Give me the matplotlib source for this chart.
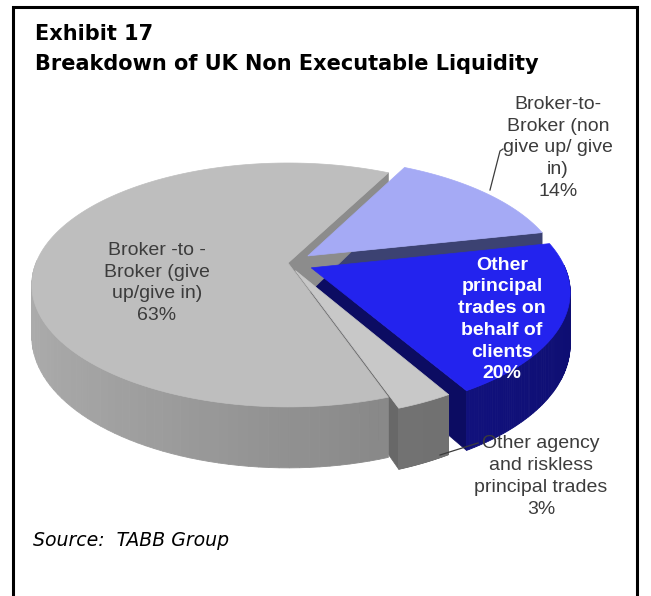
import numpy as np
import matplotlib
matplotlib.use("Agg")
import matplotlib.pyplot as plt
from matplotlib.patches import Polygon
from matplotlib.colors import to_rgb

# ---- data -------------------------------------------------------------
categories = [
    "Broker -to -\nBroker (give\nup/give in)",
    "Other agency\nand riskless\nprincipal trades",
    "Other\nprincipal\ntrades on\nbehalf of\nclients",
    "Broker-to-\nBroker (non\ngive up/ give\nin)",
]
shares = [63, 3, 20, 14]          # percent, counter-clockwise order
explode = [0.0, 0.07, 0.10, 0.10]
top_colors = ["#bebebe", "#c8c8c8", "#2323ee", "#a5aaf5"]
side_colors = [("#acacac", "#767676"), ("#7a7a7a", "#6e6e6e"),
               ("#1a1a9c", "#0e0e72"), ("#3c4272", "#3c4272")]
radial_colors = ["#8c8c8c", "#686868", "#0c0c62", "#3c4272"]
title_lines = ["Exhibit 17", "Breakdown of UK Non Executable Liquidity"]
source_text = "Source:  TABB Group"

# ---- projection of the 3-D pie ----------------------------------------
W, H_FIG = 651, 596
CX, CY = 288.0, 263.0     # pixel position of pie centre
A, B = 252.0, 118.0       # horizontal / vertical radius
K = 0.18                  # perspective strength
DEPTH = 50.0              # thickness of the pie
START = 62.5              # angle (deg) where the first slice begins


def proj(X, Z, down):
    f = 1.0 / (1.0 + K * Z)
    return CX + A * X * f, CY + (-B * Z + DEPTH * down) * f


fig = plt.figure(figsize=(W / 100, H_FIG / 100), dpi=100)
ax = fig.add_axes([0, 0, 1, 1])
ax.set_xlim(0, W)
ax.set_ylim(H_FIG, 0)
ax.axis("off")

fracs = np.array(shares, dtype=float) / sum(shares)
bounds = START + 360.0 * np.concatenate([[0], np.cumsum(fracs)])


def geometry(i):
    t0, t1 = bounds[i], bounds[i + 1]
    mid = np.radians((t0 + t1) / 2)
    return t0, t1, explode[i] * np.cos(mid), explode[i] * np.sin(mid)


def radial_walls(i, z):
    t0, t1, ox, oz = geometry(i)
    for t, visible in ((t0, np.cos(np.radians(t0)) > 0),
                       (t1, np.cos(np.radians(t1)) < 0)):
        if not visible:
            continue
        r = np.radians(t)
        ex, ez = ox + np.cos(r), oz + np.sin(r)
        pts = [proj(ox, oz, 0), proj(ex, ez, 0), proj(ex, ez, 1), proj(ox, oz, 1)]
        ax.add_patch(Polygon(pts, closed=True, facecolor=radial_colors[i],
                             edgecolor=radial_colors[i], lw=0.5, zorder=z))


def outer_wall(i, z):
    t0, t1, ox, oz = geometry(i)
    c_lo = np.array(to_rgb(side_colors[i][0]))
    c_hi = np.array(to_rgb(side_colors[i][1]))
    seg = np.radians(np.linspace(t0, t1, 120))
    for a0, a1 in zip(seg[:-1], seg[1:]):
        am = (a0 + a1) / 2
        if np.sin(am) > 0.02:
            continue
        s = 0.5 * (1 - np.cos(am - np.pi))
        col = c_lo + (c_hi - c_lo) * s
        pts = [proj(ox + np.cos(a0), oz + np.sin(a0), 0),
               proj(ox + np.cos(a1), oz + np.sin(a1), 0),
               proj(ox + np.cos(a1), oz + np.sin(a1), 1),
               proj(ox + np.cos(a0), oz + np.sin(a0), 1)]
        ax.add_patch(Polygon(pts, closed=True, facecolor=col, edgecolor=col,
                             lw=0.6, zorder=z))


def top_face(i, z):
    t0, t1, ox, oz = geometry(i)
    th = np.radians(np.linspace(t0, t1, 200))
    top = [proj(ox, oz, 0)] + [proj(ox + np.cos(t), oz + np.sin(t), 0) for t in th]
    ax.add_patch(Polygon(top, closed=True, facecolor=top_colors[i],
                         edgecolor=top_colors[i], lw=0.5, zorder=z))


# back-to-front painting: the inner walls of the exploded slices sit
# behind the large slice, which in turn sits behind the exploded tops
for i in (3, 2, 1):
    radial_walls(i, 2)
radial_walls(0, 3)
outer_wall(0, 4)
top_face(0, 5)
top_face(3, 6)
outer_wall(2, 7)
top_face(2, 8)
outer_wall(1, 9)
top_face(1, 10)

# ---- slice labels -----------------------------------------------------
lab_font = dict(family="Liberation Sans", fontsize=14, ha="center", va="center",
                linespacing=1.36, zorder=50)
labels = [f"{c}\n{s}%" for c, s in zip(categories, shares)]
ax.text(157, 283, labels[0], color="#3c3c3c", **lab_font)
ax.text(541, 476.5, labels[1], color="#3c3c3c", **lab_font)
ax.text(502, 319.5, labels[2], color="white", fontweight="bold", **lab_font)
ax.text(558, 148, labels[3], color="#3c3c3c", **lab_font)

# leader lines
ax.plot([503, 500, 490], [149, 151, 190], color="#3c3c3c", lw=0.9, zorder=49)
ax.plot([478, 440], [443, 455], color="#3c3c3c", lw=0.9, zorder=49)

# ---- title, source and frame -----------------------------------------
ax.text(35, 40, title_lines[0], fontsize=15, fontweight="bold",
        family="DejaVu Sans", ha="left", va="baseline")
ax.text(35, 69.5, title_lines[1], fontsize=15, fontweight="bold",
        family="DejaVu Sans", ha="left", va="baseline")
ax.text(33, 545.5, source_text, fontsize=13.6, style="italic",
        family="DejaVu Sans", ha="left", va="baseline")

ax.plot([13, 13, 637, 637], [H_FIG + 5, 7, 7, H_FIG + 5], color="black",
        lw=2.2, solid_joinstyle="miter", zorder=60)

fig.savefig("out.png", dpi=100)
